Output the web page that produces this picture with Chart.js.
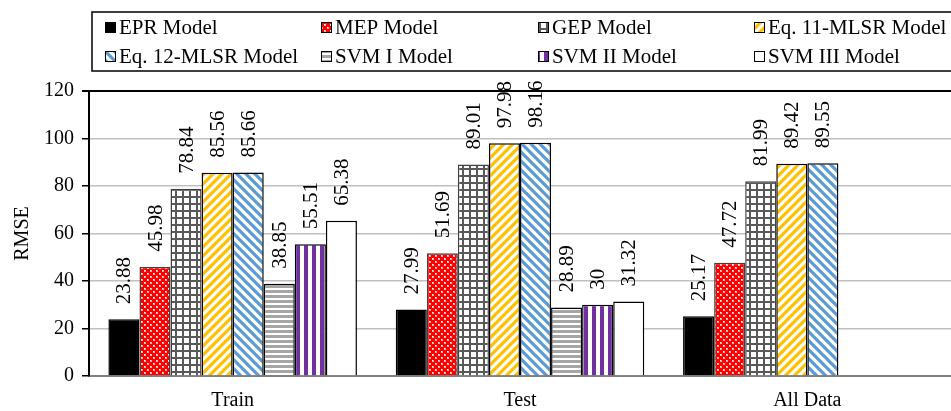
<!DOCTYPE html>
<html>
<head>
<meta charset="utf-8">
<script src="https://cdn.jsdelivr.net/npm/chart.js@4.4.1/dist/chart.umd.min.js"></script>
<style>
  html, body { margin: 0; padding: 0; background: #fff; }
  #wrap { width: 951px; height: 411px; }
</style>
</head>
<body>
<div id="wrap"><canvas id="c" width="951" height="411"></canvas></div>
<script>
// Categories and RMSE values per model
const categories = ['Train', 'Test', 'All Data'];
const modelNames = ['EPR Model', 'MEP Model', 'GEP Model', 'Eq. 11-MLSR Model',
                    'Eq. 12-MLSR Model', 'SVM I Model', 'SVM II Model', 'SVM III Model'];
const eprValues   = [23.88, 27.99, 25.17];
const mepValues   = [45.98, 51.69, 47.72];
const gepValues   = [78.84, 89.01, 81.99];
const eq11Values  = [85.56, 97.98, 89.42];
const eq12Values  = [85.66, 98.16, 89.55];
const svm1Values  = [38.85, 28.89, null];
const svm2Values  = [55.51, 30, null];
const svm3Values  = [65.38, 31.32, null];
const yTicks = [0, 20, 40, 60, 80, 100, 120];

const SERIF = "'Liberation Serif', 'Times New Roman', serif";

// ---- fill patterns ----
function tile(w, h, draw) {
  const cv = document.createElement('canvas');
  cv.width = w; cv.height = h;
  const g = cv.getContext('2d');
  draw(g, w, h);
  return document.createElement('canvas').getContext('2d').createPattern(cv, 'repeat');
}
const patMEP = tile(6, 6, (g) => {
  g.fillStyle = '#ff0000'; g.fillRect(0, 0, 6, 6);
  g.fillStyle = '#ffb0b0';
  g.fillRect(0, 0, 2, 2); g.fillRect(3, 3, 2, 2);
  g.fillStyle = '#ffffff';
  g.fillRect(0, 0, 1, 1); g.fillRect(3, 3, 1, 1);
});
const patGEP = tile(7, 7, (g) => {
  g.fillStyle = '#ffffff'; g.fillRect(0, 0, 7, 7);
  g.fillStyle = '#595959';
  g.fillRect(0, 0, 7, 2); g.fillRect(0, 0, 2, 7);
});
function diag(color, dir) {
  return tile(9, 9, (g) => {
    g.fillStyle = '#ffffff'; g.fillRect(0, 0, 9, 9);
    g.strokeStyle = color; g.lineWidth = 3.2;
    g.beginPath();
    for (let k = -1; k <= 1; k++) {
      if (dir > 0) { g.moveTo(-9 + k * 9, 18); g.lineTo(18 + k * 9, -9); }
      else { g.moveTo(-9 + k * 9, -9); g.lineTo(18 + k * 9, 18); }
    }
    g.stroke();
  });
}
const patEq11 = diag('#ffc000', 1);
const patEq12 = diag('#5b9bd5', -1);
const patSVM1 = tile(5, 5, (g) => {
  g.fillStyle = '#ffffff'; g.fillRect(0, 0, 5, 5);
  g.fillStyle = '#a6a6a6'; g.fillRect(0, 0, 5, 3);
});
const patSVM2 = tile(8, 8, (g) => {
  g.fillStyle = '#ffffff'; g.fillRect(0, 0, 8, 8);
  g.fillStyle = '#7030a0'; g.fillRect(0, 0, 4, 8);
});

const seriesValues = [eprValues, mepValues, gepValues, eq11Values, eq12Values, svm1Values, svm2Values, svm3Values];
const fills = ['#000000', patMEP, patGEP, patEq11, patEq12, patSVM1, patSVM2, '#ffffff'];
const borders = ['#000000', '#404040', '#404040', '#000000', '#000000', '#000000', '#000000', '#000000'];

const datasets = modelNames.map((name, i) => ({
  label: name,
  data: seriesValues[i],
  backgroundColor: fills[i],
  borderColor: borders[i],
  borderWidth: 1.5,
  categoryPercentage: 0.865,
  barPercentage: 1.0
}));

// Rotated value labels above each bar
const valueLabels = {
  id: 'valueLabels',
  afterDatasetsDraw(chart) {
    const ctx = chart.ctx;
    ctx.save();
    ctx.font = '21px ' + SERIF;
    ctx.fillStyle = '#000';
    ctx.textAlign = 'left';
    ctx.textBaseline = 'middle';
    chart.data.datasets.forEach((ds, di) => {
      const meta = chart.getDatasetMeta(di);
      meta.data.forEach((bar, j) => {
        const v = ds.data[j];
        if (v === null || v === undefined) return;
        ctx.save();
        ctx.translate(bar.x + 1, bar.y - 15);
        ctx.rotate(-Math.PI / 2);
        ctx.fillText(String(v), 0, 0);
        ctx.restore();
      });
    });
    ctx.restore();
  }
};

// Boxed legend laid out on a fixed four-column grid
const gridLegend = {
  id: 'gridLegend',
  afterDraw(chart) {
    const ctx = chart.ctx;
    const boxLeft = 92, boxTop = 12, boxBottom = 71;
    ctx.save();
    ctx.strokeStyle = '#000';
    ctx.lineWidth = 1.5;
    ctx.beginPath();
    ctx.moveTo(chart.width + 2, boxTop);
    ctx.lineTo(boxLeft, boxTop);
    ctx.lineTo(boxLeft, boxBottom);
    ctx.lineTo(chart.width + 2, boxBottom);
    ctx.stroke();
    ctx.font = '21px ' + SERIF;
    ctx.textBaseline = 'middle';
    ctx.textAlign = 'left';
    const colX = [105, 321, 538, 754];
    const rowY = [27, 56];
    chart.data.datasets.forEach((ds, i) => {
      const x = colX[i % 4], y = rowY[Math.floor(i / 4)];
      ctx.fillStyle = ds.backgroundColor;
      ctx.fillRect(x, y - 5, 11, 11);
      ctx.lineWidth = 1;
      ctx.strokeStyle = '#000';
      ctx.strokeRect(x + 0.5, y - 4.5, 10, 10);
      ctx.fillStyle = '#000';
      ctx.fillText(ds.label, x + 14, y + 1);
    });
    ctx.restore();
  }
};

new Chart(document.getElementById('c'), {
  type: 'bar',
  data: { labels: categories, datasets },
  options: {
    responsive: false,
    animation: false,
    layout: { padding: { top: 91, left: 11, right: 0, bottom: 0 } },
    plugins: {
      legend: { display: false },
      tooltip: { enabled: false }
    },
    scales: {
      x: {
        afterFit(axis) { axis.height = 35; },
        grid: { display: false },
        border: { color: '#808080', width: 2 },
        ticks: { color: '#000', font: { family: SERIF, size: 20 }, padding: 5 }
      },
      y: {
        min: 0,
        max: 120,
        afterBuildTicks(axis) { axis.ticks = yTicks.map(v => ({ value: v })); },
        afterFit(axis) { axis.width = 78; },
        grid: {
          color: (c) => c.tick && c.tick.value === 120 ? '#000000' : '#c0c0c0',
          lineWidth: (c) => c.tick && c.tick.value === 120 ? 2 : 1.5,
          tickColor: '#000',
          tickLength: 7,
          drawTicks: true
        },
        border: { color: '#000', width: 2 },
        ticks: { color: '#000', font: { family: SERIF, size: 20 }, padding: 8 },
        title: {
          display: true,
          text: 'RMSE',
          color: '#000',
          font: { family: SERIF, size: 20 },
          padding: { top: 0, bottom: 6 }
        }
      }
    }
  },
  plugins: [valueLabels, gridLegend]
});
</script>
</body>
</html>
